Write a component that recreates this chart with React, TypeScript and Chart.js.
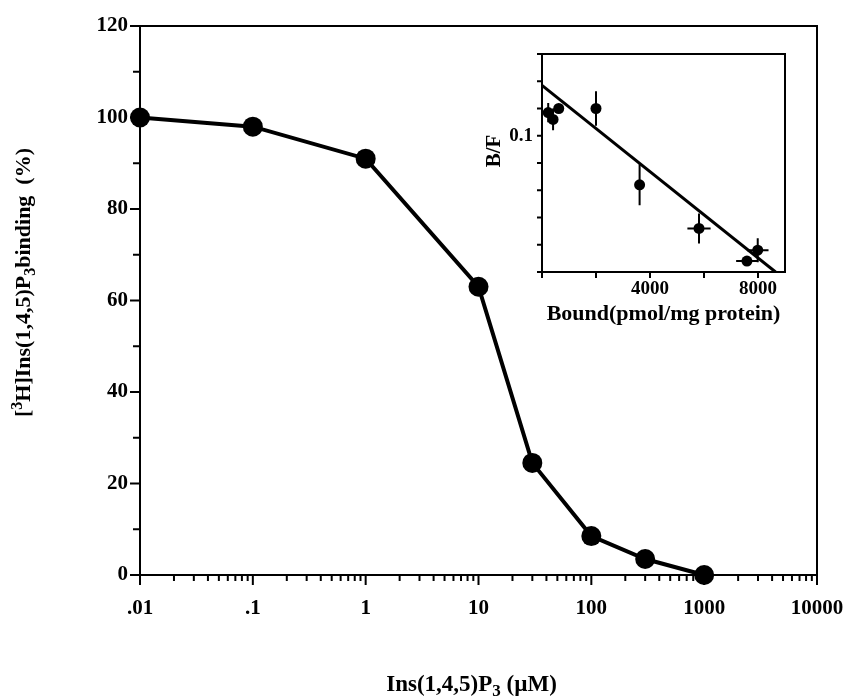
import React, { useEffect, useRef } from 'react';
import { Chart, registerables } from 'chart.js';
Chart.register(...registerables);

// ---- main curve data ----
const concentrations = [0.01, 0.1, 1, 10, 30, 100, 300, 1000];
const bindingPercent = [100, 98, 91, 63, 24.5, 8.5, 3.5, 0];
const xTickValues = [0.01, 0.1, 1, 10, 100, 1000, 10000];
const xTickLabels = ['.01', '.1', '1', '10', '100', '1000', '10000'];
const yTickLabeled = [0, 20, 40, 60, 80, 100, 120];

// ---- inset (Scatchard) data ----
const boundValues = [230, 410, 620, 2000, 3615, 5815, 7590, 7990];
const bfValues = [0.117, 0.112, 0.12, 0.12, 0.064, 0.032, 0.008, 0.016];
const bfErrors = [0.007, 0.008, 0, 0.0126, 0.015, 0.011, 0, 0.0088];
const boundErrors = [0, 0, 0, 0, 0, 430, 400, 400];
const fitBound = [0, 8650];
const fitBF = [0.137, 0];
const insetXTicks = [0, 2000, 4000, 6000, 8000];
const insetXLabels = ['', '', '4000', '', '8000'];
const insetYTicks = [0, 0.02, 0.04, 0.06, 0.08, 0.1, 0.12, 0.14, 0.16];
const insetYLabels = ['', '', '', '', '', '0.1', '', '', ''];

const FAMILY = "'Liberation Serif', 'Times New Roman', serif";

type Seg = { t: string; k?: 'sup' | 'sub' };

function drawRich(ctx: CanvasRenderingContext2D, segs: Seg[], x: number, y: number, size: number, rot: number) {
  ctx.save();
  ctx.translate(x, y);
  ctx.rotate(rot);
  ctx.fillStyle = '#000';
  ctx.textBaseline = 'alphabetic';
  ctx.textAlign = 'left';
  const fontFor = (s: Seg) => `bold ${s.k ? Math.round(size * 0.72) : size}px ${FAMILY}`;
  let total = 0;
  const widths = segs.map((s) => {
    ctx.font = fontFor(s);
    const w = ctx.measureText(s.t).width;
    total += w;
    return w;
  });
  let cx = -total / 2;
  const base = size * 0.33;
  segs.forEach((s, i) => {
    ctx.font = fontFor(s);
    let dy = 0;
    if (s.k === 'sup') dy = -size * 0.38;
    if (s.k === 'sub') dy = size * 0.22;
    ctx.fillText(s.t, cx, base + dy);
    cx += widths[i];
  });
  ctx.restore();
}

const isDecade = (v: number) => Math.abs(Math.log10(v) - Math.round(Math.log10(v))) < 1e-9;

const zeroPad = (scale: any) => {
  scale.paddingLeft = 0;
  scale.paddingRight = 0;
  scale.paddingTop = 0;
  scale.paddingBottom = 0;
};

const mainDecor = {
  id: 'mainDecor',
  afterDraw(chart: any) {
    const { ctx, chartArea: a, scales } = chart;
    const xs = scales.x;
    const ys = scales.y;
    ctx.save();
    ctx.strokeStyle = '#000';
    ctx.lineWidth = 2;
    ctx.lineCap = 'butt';
    ctx.strokeRect(a.left, a.top, a.right - a.left, a.bottom - a.top);
    ctx.beginPath();
    xs.ticks.forEach((t: any) => {
      const px = xs.getPixelForValue(t.value);
      const len = isDecade(t.value) ? 10 : 6;
      ctx.moveTo(px, a.bottom);
      ctx.lineTo(px, a.bottom + len);
    });
    ys.ticks.forEach((t: any) => {
      const py = ys.getPixelForValue(t.value);
      const len = t.value % 20 === 0 ? 10 : 7;
      ctx.moveTo(a.left - len, py);
      ctx.lineTo(a.left, py);
    });
    ctx.stroke();
    ctx.restore();
    drawRich(
      ctx,
      [{ t: '[' }, { t: '3', k: 'sup' }, { t: 'H]Ins(1,4,5)P' }, { t: '3', k: 'sub' }, { t: 'binding  (%)' }],
      a.left - 117,
      (a.top + a.bottom) / 2 - 18,
      22,
      -Math.PI / 2
    );
    drawRich(
      ctx,
      [{ t: 'Ins(1,4,5)P' }, { t: '3', k: 'sub' }, { t: ' (\u00b5M)' }],
      (a.left + a.right) / 2 - 7,
      a.bottom + 108,
      23,
      0
    );
  },
};

const insetDecor = {
  id: 'insetDecor',
  beforeDraw(chart: any) {
    const { ctx, chartArea: a } = chart;
    ctx.save();
    ctx.fillStyle = '#fff';
    ctx.fillRect(a.left, a.top, a.right - a.left, a.bottom - a.top);
    ctx.restore();
  },
  beforeDatasetsDraw(chart: any) {
    const { ctx, scales } = chart;
    const xs = scales.x;
    const ys = scales.y;
    ctx.save();
    ctx.strokeStyle = '#000';
    ctx.lineWidth = 2;
    ctx.beginPath();
    boundValues.forEach((b, i) => {
      const px = xs.getPixelForValue(b);
      const py = ys.getPixelForValue(bfValues[i]);
      if (bfErrors[i] > 0) {
        ctx.moveTo(px, ys.getPixelForValue(bfValues[i] + bfErrors[i]));
        ctx.lineTo(px, ys.getPixelForValue(bfValues[i] - bfErrors[i]));
      }
      if (boundErrors[i] > 0) {
        ctx.moveTo(xs.getPixelForValue(b - boundErrors[i]), py);
        ctx.lineTo(xs.getPixelForValue(b + boundErrors[i]), py);
      }
    });
    ctx.stroke();
    ctx.restore();
  },
  afterDraw(chart: any) {
    const { ctx, chartArea: a, scales } = chart;
    const xs = scales.x;
    const ys = scales.y;
    ctx.save();
    ctx.strokeStyle = '#000';
    ctx.lineWidth = 2;
    ctx.strokeRect(a.left, a.top, a.right - a.left, a.bottom - a.top);
    ctx.beginPath();
    insetXTicks.forEach((v) => {
      const px = xs.getPixelForValue(v);
      ctx.moveTo(px, a.bottom);
      ctx.lineTo(px, a.bottom + 6);
    });
    insetYTicks.forEach((v) => {
      const py = ys.getPixelForValue(v);
      ctx.moveTo(a.left - 5, py);
      ctx.lineTo(a.left, py);
    });
    ctx.stroke();
    ctx.restore();
    drawRich(ctx, [{ t: 'B/F' }], a.left - 49, a.top + 97, 21, -Math.PI / 2);
    drawRich(ctx, [{ t: 'Bound(pmol/mg protein)' }], (a.left + a.right) / 2, a.bottom + 41, 22, 0);
  },
};

export default function App() {
  const mainRef = useRef<HTMLCanvasElement>(null);
  const insetRef = useRef<HTMLCanvasElement>(null);

  useEffect(() => {
    document.body.style.margin = '0';
    const tickFont = { family: FAMILY, size: 21, weight: 'bold' as const };
    const main = new Chart(mainRef.current!, {
      type: 'line',
      data: {
        datasets: [
          {
            data: concentrations.map((c, i) => ({ x: c, y: bindingPercent[i] })),
            borderColor: '#000',
            borderWidth: 4,
            pointRadius: 10,
            pointBackgroundColor: '#000',
            pointBorderWidth: 0,
            tension: 0,
            clip: false,
          } as any,
        ],
      },
      options: {
        animation: false,
        responsive: false,
        maintainAspectRatio: false,
        layout: { padding: { top: 26, right: 28, left: 0, bottom: 0 } },
        plugins: { legend: { display: false }, tooltip: { enabled: false } },
        scales: {
          x: {
            type: 'logarithmic',
            min: 0.01,
            max: 10000,
            grid: { display: false, drawTicks: false },
            border: { display: false },
            afterBuildTicks: (scale: any) => {
              const ticks: any[] = [];
              for (let e = -2; e < 4; e++) {
                for (let m = 1; m < 10; m++) ticks.push({ value: m * Math.pow(10, e) });
              }
              ticks.push({ value: 10000 });
              scale.ticks = ticks;
            },
            afterFit: (scale: any) => {
              scale.height = 121;
              zeroPad(scale);
            },
            ticks: {
              autoSkip: false,
              maxRotation: 0,
              padding: 21,
              color: '#000',
              font: tickFont,
              callback: (v: any) => {
                const idx = xTickValues.findIndex((t) => Math.abs(t - Number(v)) / t < 1e-6);
                return idx >= 0 ? xTickLabels[idx] : '';
              },
            },
          },
          y: {
            type: 'linear',
            min: 0,
            max: 120,
            grid: { display: false, drawTicks: false },
            border: { display: false },
            afterFit: (scale: any) => {
              scale.width = 140;
              zeroPad(scale);
            },
            ticks: {
              stepSize: 10,
              padding: 12,
              color: '#000',
              font: tickFont,
              callback: (v: any) => (yTickLabeled.includes(Number(v)) ? String(v) : ''),
            },
          },
        },
      },
      plugins: [mainDecor],
    });

    const insetFont = { family: FAMILY, size: 19, weight: 'bold' as const };
    const inset = new Chart(insetRef.current!, {
      type: 'scatter',
      data: {
        datasets: [
          {
            data: fitBound.map((b, i) => ({ x: b, y: fitBF[i] })),
            showLine: true,
            borderColor: '#000',
            borderWidth: 3,
            pointRadius: 0,
          },
          {
            data: boundValues.map((b, i) => ({ x: b, y: bfValues[i] })),
            pointRadius: 5.5,
            pointBackgroundColor: '#000',
            pointBorderWidth: 0,
            clip: false,
          } as any,
        ],
      },
      options: {
        animation: false,
        responsive: false,
        maintainAspectRatio: false,
        layout: { padding: { top: 14, right: 35, left: 0, bottom: 0 } },
        plugins: { legend: { display: false }, tooltip: { enabled: false } },
        scales: {
          x: {
            type: 'linear',
            min: 0,
            max: 9000,
            grid: { display: false, drawTicks: false },
            border: { display: false },
            afterBuildTicks: (scale: any) => {
              scale.ticks = insetXTicks.map((v) => ({ value: v }));
            },
            afterFit: (scale: any) => {
              scale.height = 68;
              zeroPad(scale);
            },
            ticks: {
              autoSkip: false,
              maxRotation: 0,
              padding: 6,
              color: '#000',
              font: insetFont,
              callback: (v: any) => {
                const idx = insetXTicks.indexOf(Number(v));
                return idx >= 0 ? insetXLabels[idx] : '';
              },
            },
          },
          y: {
            type: 'linear',
            min: 0,
            max: 0.16,
            grid: { display: false, drawTicks: false },
            border: { display: false },
            afterBuildTicks: (scale: any) => {
              scale.ticks = insetYTicks.map((v) => ({ value: v }));
            },
            afterFit: (scale: any) => {
              scale.width = 72;
              zeroPad(scale);
            },
            ticks: {
              padding: 9,
              color: '#000',
              font: insetFont,
              callback: (v: any) => {
                const idx = insetYTicks.findIndex((t) => Math.abs(t - Number(v)) < 1e-9);
                return idx >= 0 ? insetYLabels[idx] : '';
              },
            },
          },
        },
      },
      plugins: [insetDecor],
    });

    return () => {
      main.destroy();
      inset.destroy();
    };
  }, []);

  return (
    <div style={{ position: 'relative', width: 845, height: 696, background: '#fff' }}>
      <canvas ref={mainRef} width={845} height={696} style={{ display: 'block' }} />
      <canvas
        ref={insetRef}
        width={350}
        height={300}
        style={{ position: 'absolute', left: 470, top: 40, width: 350, height: 300 }}
      />
    </div>
  );
}
